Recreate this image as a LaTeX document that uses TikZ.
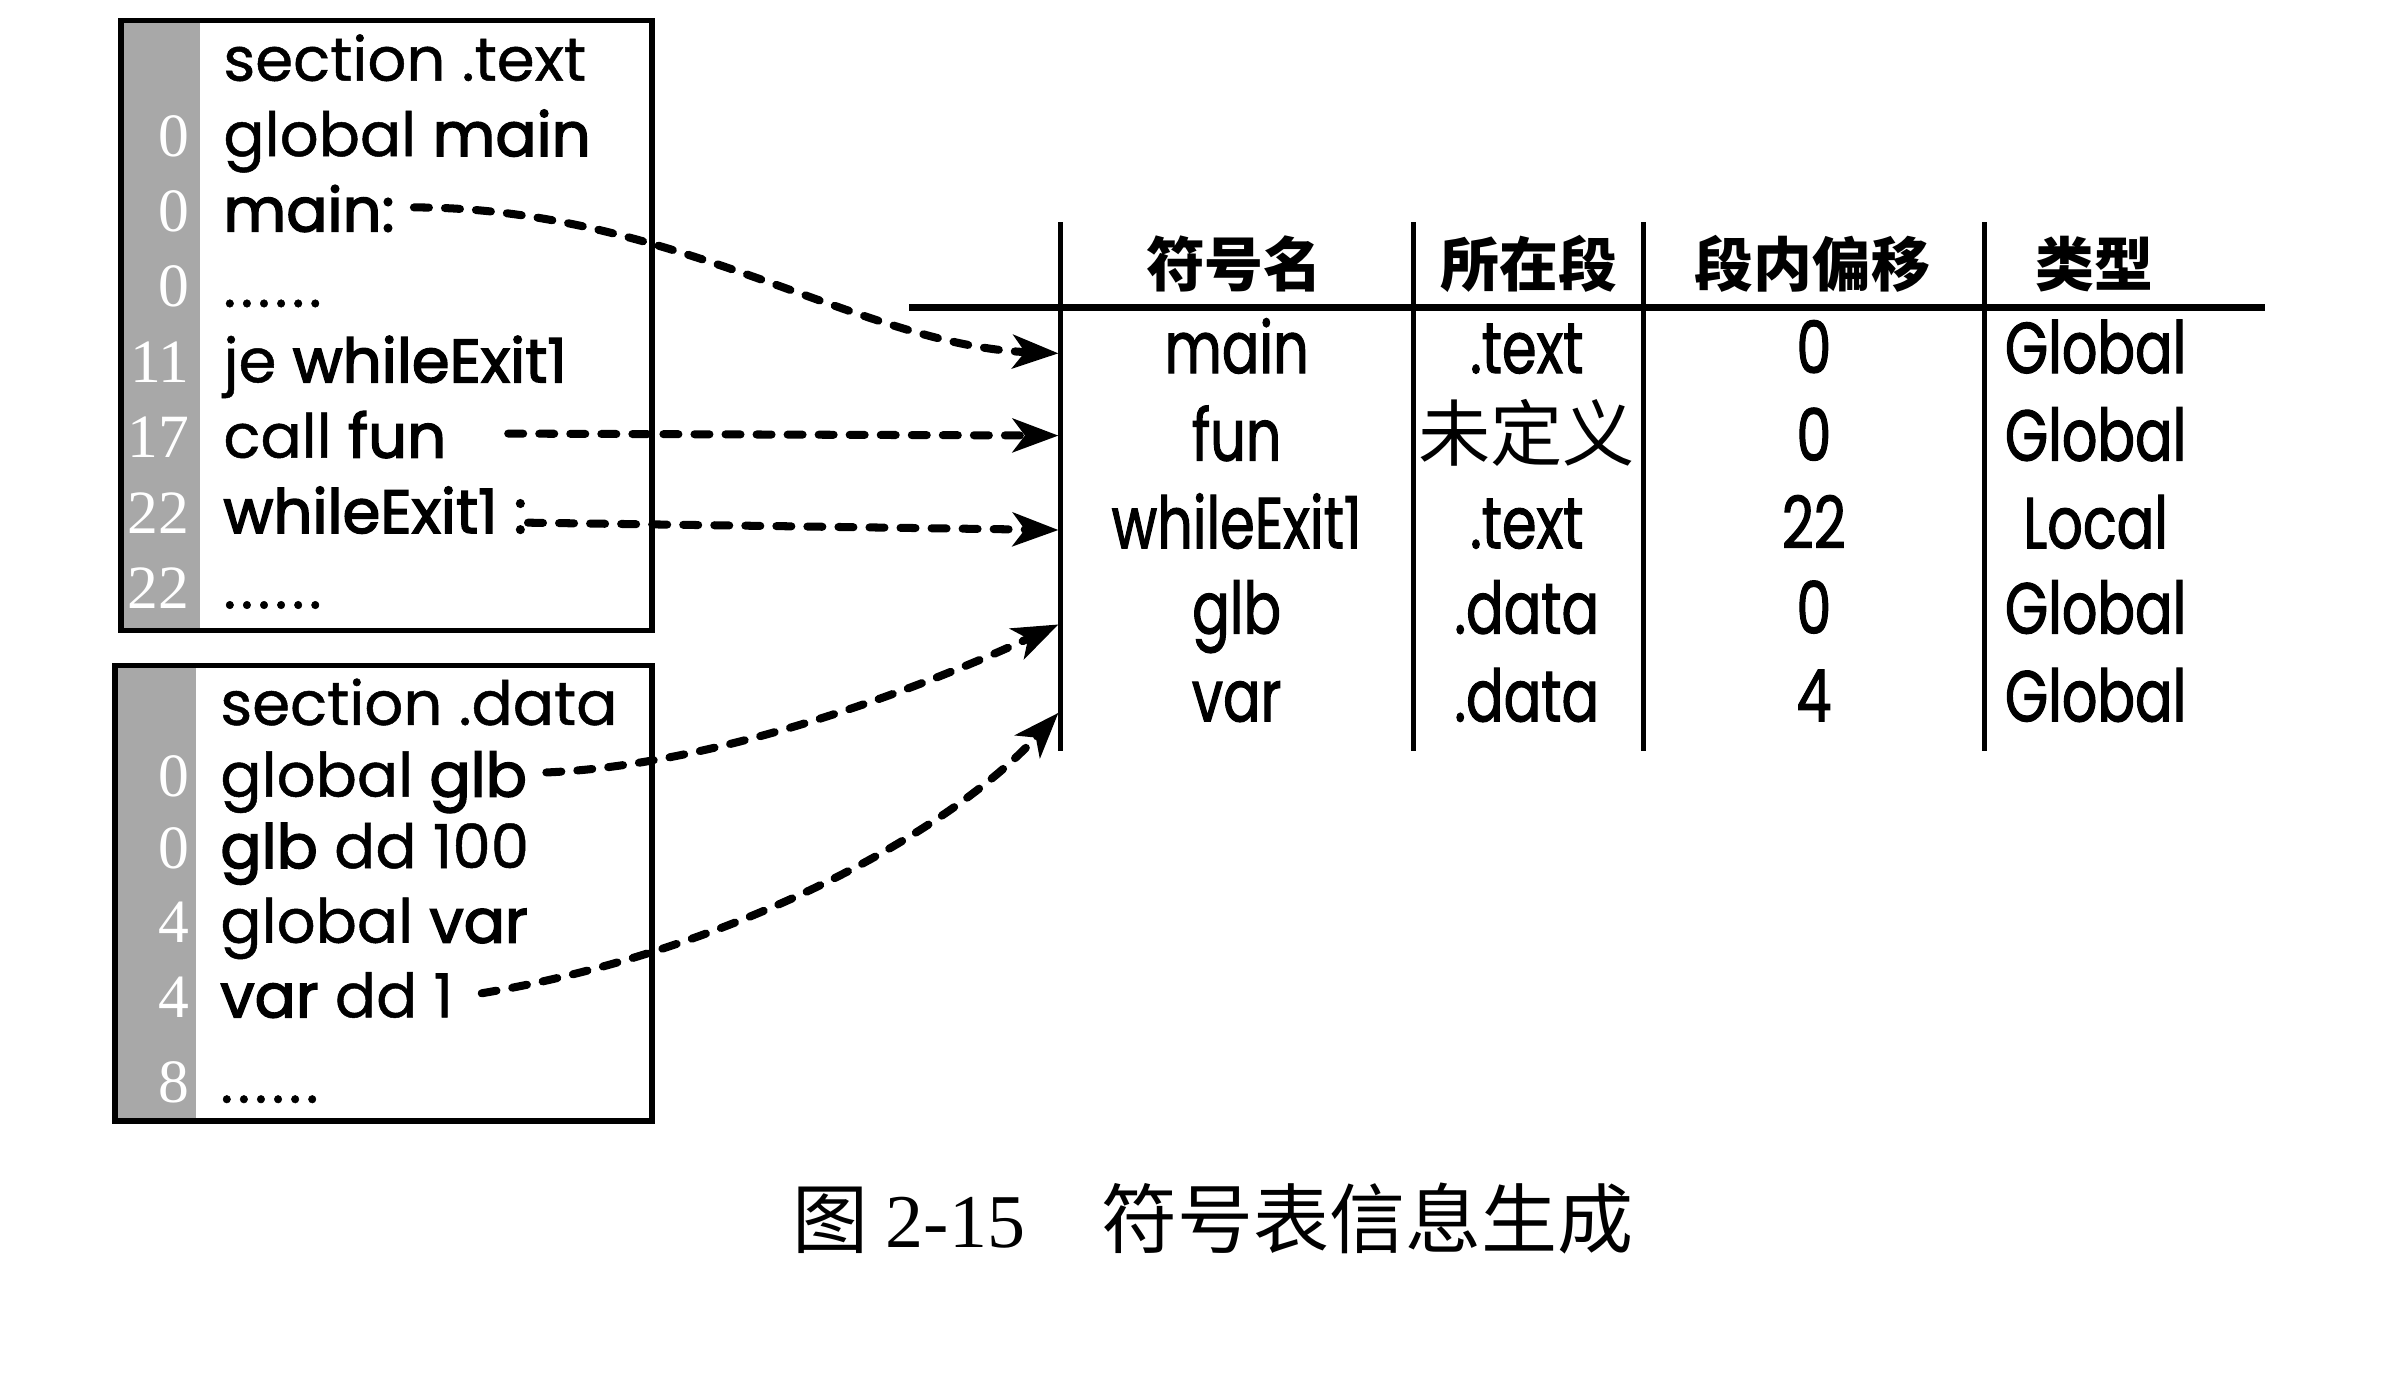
\documentclass[tikz,border=0pt]{standalone}
\usepackage{fontspec}
\setmainfont{Poppins}
\newfontfamily\codefont[FakeBold=0.8]{Poppins}
\newfontfamily\symfont[FakeBold=2.4]{Poppins}
\newfontfamily\cjk{Noto Sans CJK SC}
\newfontfamily\tabfont[FakeStretch=0.77,FakeBold=1.4]{Poppins}
\newfontfamily\numfont{Liberation Serif}
\newcommand\symb[1]{{\symfont #1}}
\newcommand\dotline{.\kern0.8pt.\kern0.8pt.\kern0.8pt.\kern0.8pt.\kern0.8pt.}
\usetikzlibrary{arrows.meta}
\definecolor{stripgray}{gray}{0.66}

\begin{document}
\begin{tikzpicture}[scale=1]
    \tikzstyle{every node}=[inner sep=0pt];
    \tikzstyle{code}=[anchor=base west,font=\codefont\fontsize{11.4}{14}\selectfont,text height=9pt,text depth=0pt];
    \tikzstyle{num}=[anchor=base east,text=white,font=\numfont\fontsize{11.5}{13}\selectfont];
    \tikzstyle{head}=[font=\cjk\bfseries\fontsize{11}{13}\selectfont];
    \tikzstyle{cell}=[anchor=base,font=\tabfont\fontsize{13.5}{15}\selectfont];
    \tikzstyle{link}=[draw,line width=1.5pt,dash pattern=on 2.8pt off 3pt,line cap=round,-{Stealth[length=3mm,width=2.2mm,inset=0.8mm]}];
    \useasboundingbox (0,0) rectangle (15.68,-9.11);

    % section .text
    \fill[stripgray] (0.795,-0.136) rectangle (1.31,-4.14);
    \draw[line width=1pt] (0.795,-0.136) rectangle (4.28,-4.14);
    \node at (1.46,-0.53)  (ltext)  [code] {section .text};
    \node at (1.46,-1.025) (lgmain) [code] {global \symb{main}};
    \node at (1.46,-1.52)  (lmain)  [code] {\symb{main:}};
    \node at (1.46,-2.015) (ldotsa) [code] {\dotline};
    \node at (1.46,-2.51)  (lje)    [code] {je \symb{whileExit1}};
    \node at (1.46,-3.005) (lfun)   [code] {call \symb{fun}};
    \node at (1.46,-3.50)  (lwhile) [code] {\symb{whileExit1 :}};
    \node at (1.46,-3.995) (ldotsb) [code] {\dotline};
    \node at (1.25,-1.025) (na) [num] {0};
    \node at (1.25,-1.52)  (nb) [num] {0};
    \node at (1.25,-2.015) (nc) [num] {0};
    \node at (1.25,-2.51)  (nd) [num] {11};
    \node at (1.25,-3.005) (ne) [num] {17};
    \node at (1.25,-3.50)  (nf) [num] {22};
    \node at (1.25,-3.995) (ng) [num] {22};

    % section .data
    \fill[stripgray] (0.755,-4.37) rectangle (1.29,-7.36);
    \draw[line width=1pt] (0.755,-4.37) rectangle (4.28,-7.36);
    \node at (1.44,-4.76) (ldata)  [code] {section .data};
    \node at (1.44,-5.23) (lglb)   [code] {global \symb{glb}};
    \node at (1.44,-5.70) (ldd)    [code] {\symb{glb} dd 100};
    \node at (1.44,-6.19) (lgvar)  [code] {global \symb{var}};
    \node at (1.44,-6.68) (lvar)   [code] {\symb{var} dd 1};
    \node at (1.44,-7.24) (ldotsc) [code] {\dotline};
    \node at (1.25,-5.23) (nh) [num] {0};
    \node at (1.25,-5.70) (ni) [num] {0};
    \node at (1.25,-6.19) (nj) [num] {4};
    \node at (1.25,-6.68) (nk) [num] {4};
    \node at (1.25,-7.24) (nl) [num] {8};

    % symbol table
    \draw[line width=1.4pt] (5.97,-2.02) -- (14.87,-2.02);
    \draw[line width=0.9pt] (6.965,-1.46) -- (6.965,-4.93);
    \draw[line width=0.9pt] (9.28,-1.46) -- (9.28,-4.93);
    \draw[line width=0.9pt] (10.79,-1.46) -- (10.79,-4.93);
    \draw[line width=0.9pt] (13.03,-1.46) -- (13.03,-4.93);
    \node at (8.105,-1.735)  (hname) [head] {符号名};
    \node at (10.04,-1.735)  (hsec)  [head] {所在段};
    \node at (11.90,-1.735)  (hoff)  [head] {段内偏移};
    \node at (13.75,-1.735)  (htype) [head] {类型};

    \node at (8.12,-2.45)   (amain) [cell] {main};
    \node at (10.025,-2.45) (bmain) [cell] {.text};
    \node at (11.91,-2.45)  (cmain) [cell] {0};
    \node at (13.76,-2.45)  (dmain) [cell] {Global};
    \node at (8.12,-3.025)   (afun) [cell] {fun};
    \node at (10.025,-3.025) (bfun) [cell] {\cjk 未定义};
    \node at (11.91,-3.025)  (cfun) [cell] {0};
    \node at (13.76,-3.025)  (dfun) [cell] {Global};
    \node at (8.12,-3.60)   (awhile) [cell] {whileExit1};
    \node at (10.025,-3.60) (bwhile) [cell] {.text};
    \node at (11.91,-3.60)  (cwhile) [cell] {22};
    \node at (13.76,-3.60)  (dwhile) [cell] {Local};
    \node at (8.12,-4.16)   (aglb) [cell] {glb};
    \node at (10.025,-4.16) (bglb) [cell] {.data};
    \node at (11.91,-4.16)  (cglb) [cell] {0};
    \node at (13.76,-4.16)  (dglb) [cell] {Global};
    \node at (8.12,-4.737)   (avar) [cell] {var};
    \node at (10.025,-4.737) (bvar) [cell] {.data};
    \node at (11.91,-4.737)  (cvar) [cell] {4};
    \node at (13.76,-4.737)  (dvar) [cell] {Global};

    \coordinate (tmain)  at (6.95,-2.32);
    \coordinate (tfun)   at (6.95,-2.86);
    \coordinate (twhile) at (6.95,-3.48);
    \coordinate (tglb)   at (6.95,-4.10);
    \coordinate (tvar)   at (6.95,-4.68);

    \draw[link] ([xshift=1.2mm]lmain.east) .. controls +(1.7,0) and +(-1.3,0.05) .. (tmain);
    \draw[link] ([xshift=4mm]lfun.east) -- (tfun);
    \draw[link] ([yshift=-0.9mm]lwhile.east) -- (twhile);
    \draw[link] ([xshift=1.2mm]lglb.east) .. controls +(1.2,0.05) and +(-0.75,-0.35) .. (tglb);
    \draw[link] ([xshift=1.8mm]lvar.east) .. controls +(1.6,0.27) and +(-0.75,-0.82) .. (tvar);

    \node at (7.965,-8.0) (caption) [font=\fontsize{14.2}{17}\selectfont] {\cjk 图~\numfont 2-15\quad\cjk 符号表信息生成};
\end{tikzpicture}
\end{document}
